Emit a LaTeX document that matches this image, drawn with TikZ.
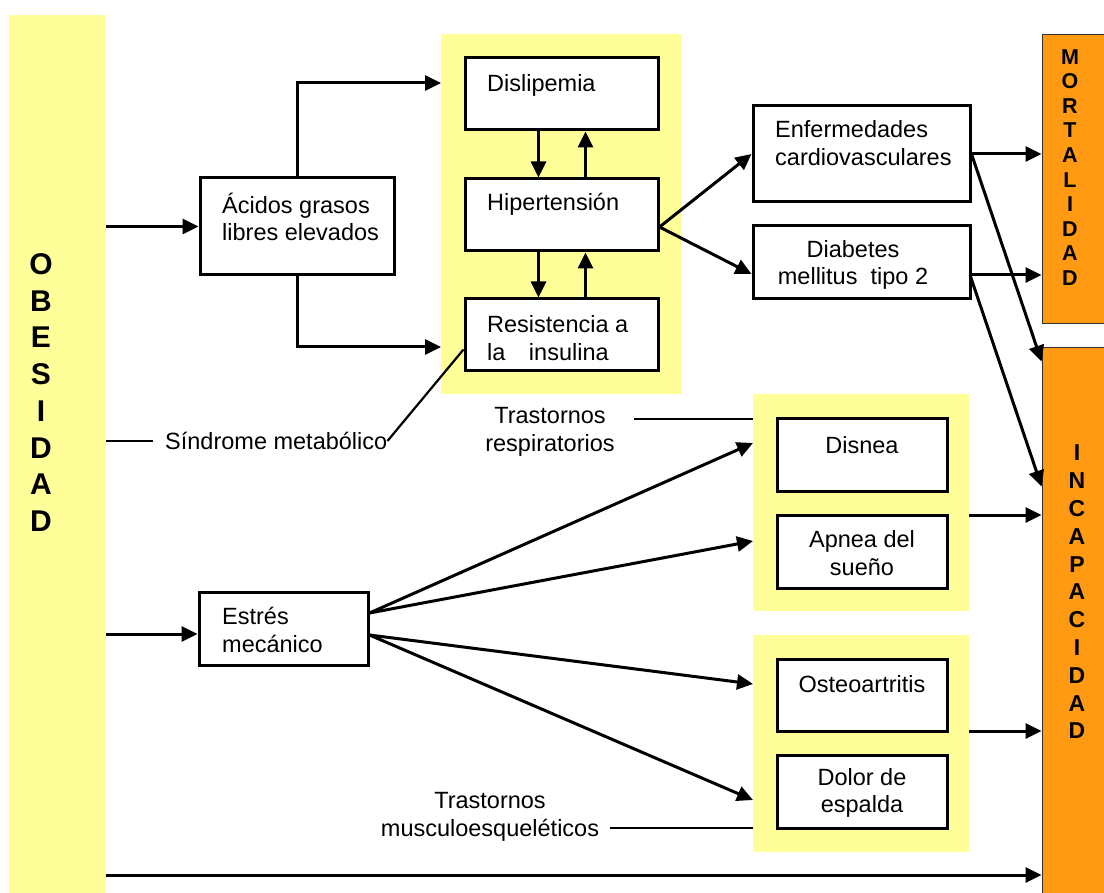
\documentclass[tikz,border=0pt]{standalone}
\usepackage{fontspec}
\setmainfont{Liberation Sans}
\usetikzlibrary{arrows.meta,positioning,calc}
\definecolor{panelyellow}{HTML}{FFFF99}
\definecolor{barorange}{HTML}{FF9A12}
\tikzset{
box/.style={draw,line width=3pt,fill=white,inner sep=0pt},
panel/.style={fill=panelyellow,inner sep=0pt},
bar/.style={fill=barorange,draw=black!80,line width=0.8pt,inner sep=0pt},
lbl/.style={inner sep=0pt,align=left},
arr/.style={-{Triangle[length=16pt,width=15pt]},line width=3pt},
}
\begin{document}
\begin{tikzpicture}[x=1pt,y=-1pt,font=\fontsize{23.5}{27.5}\selectfont]
\useasboundingbox (0,0) rectangle (1104,893);
\node[panel,minimum width=97,minimum height=878] (obes) at (57.5,454) {};
\node[panel,minimum width=241,minimum height=360] (metab) at (561.5,214) {};
\node[panel,minimum width=216,minimum height=217] (resp) at (861,502.5) {};
\node[panel,minimum width=216,minimum height=217] (musc) at (861,743.5) {};
\node[bar,minimum width=83,minimum height=289] (mort) at (1083.5,178.5) {};
\node[bar,minimum width=83,minimum height=563] (incap) at (1083.5,628.5) {};
\node[font=\fontsize{30}{36.7}\selectfont\bfseries,align=center,inner sep=0pt] (obesT) at (41,392.5) {O\\B\\E\\S\\I\\D\\A\\D};
\node[font=\fontsize{21.5}{24.6}\selectfont\bfseries,align=center,inner sep=0pt] (mortT) at (1070,167.5) {M\\O\\R\\T\\A\\L\\I\\D\\A\\D};
\node[font=\fontsize{23}{27.8}\selectfont\bfseries,align=center,inner sep=0pt] (incapT) at (1077,592) {I\\N\\C\\A\\P\\A\\C\\I\\D\\A\\D};
\node[box,minimum width=194,minimum height=97] (acg) at (297,226.5) {};
\node[box,minimum width=193,minimum height=72] (dis) at (561.5,94) {};
\node[box,minimum width=193,minimum height=72] (hip) at (561.5,215) {};
\node[box,minimum width=193,minimum height=72] (res) at (561.5,335) {};
\node[box,minimum width=217,minimum height=96] (enf) at (861.5,154) {};
\node[box,minimum width=217,minimum height=73] (dia) at (861.5,262.5) {};
\node[box,minimum width=170,minimum height=72] (disn) at (862,455) {};
\node[box,minimum width=170,minimum height=73] (apn) at (862,551.5) {};
\node[box,minimum width=170,minimum height=72] (ost) at (862,695) {};
\node[box,minimum width=170,minimum height=73] (dol) at (862,791.5) {};
\node[box,minimum width=169,minimum height=73] (est) at (283.5,628.5) {};
\node[lbl,anchor=west] (acgT) at (222,217) {Ácidos grasos\\libres elevados};
\node[lbl,anchor=west] (disT) at (487,85) {Dislipemia};
\node[lbl,anchor=west] (hipT) at (487,204) {Hipertensión};
\node[lbl,anchor=west] (resT) at (487,338) {Resistencia a\\la\hspace{1em}insulina};
\node[lbl,anchor=west] (enfT) at (775,143) {Enfermedades\\cardiovasculares};
\node[lbl,align=center] (diaT) at (853,265) {Diabetes\\mellitus\ \ tipo 2};
\node[lbl,align=center] (disnT) at (862,445) {Disnea};
\node[lbl,align=center] (apnT) at (862,553) {Apnea del\\sueño};
\node[lbl,align=center] (ostT) at (862,684) {Osteoartritis};
\node[lbl,align=center] (dolT) at (862,793) {Dolor de\\espalda};
\node[lbl,anchor=west] (estT) at (222,630) {Estrés\\mecánico};
\node[lbl,anchor=west] (sindT) at (165,441) {Síndrome metabólico};
\node[lbl,align=center] (respT) at (550,432) {Trastornos\\respiratorios};
\node[lbl,align=center] (muscT) at (490,817) {Trastornos\\musculoesqueléticos};
\coordinate (m1) at (441,83);
\coordinate (m2) at (441,347);
\coordinate (o1) at (106,634);
\coordinate (o2) at (106,875);
\coordinate (s1) at (153,441);
\coordinate (d1) at (970,275);
\coordinate (r1) at (969,515);
\coordinate (r2) at (969,731);
\coordinate (t1) at (634,419);
\coordinate (t2) at (610,828);
\coordinate (a1) at (753,443);
\coordinate (a2) at (753,541);
\coordinate (a3) at (753,684);
\coordinate (a4) at (753,800);
\coordinate (hipE) at ([yshift=-12pt]hip.east);
\coordinate (e1) at ([yshift=15.5pt]est.east);
\coordinate (e2) at ([yshift=-6.5pt]est.east);
\draw[arr] (obes.east |- acg.west) -- (acg.west);
\draw[arr] (acg.north) |- (m1);
\draw[arr] (acg.south) |- (m2);
\draw[arr] (o1) -- (est.west |- o1);
\draw[arr] (o2) -- (incap.west |- o2);
\draw[line width=2.2pt] (obes.east |- sindT) -- (s1);
\draw[line width=2.2pt] (sindT.east) -- ([yshift=23pt]res.south west);
\draw[line width=2.8pt] (t1) -- (resp.west |- t1);
\draw[line width=2.8pt] (t2) -- (musc.west |- t2);
\path[arr] ([xshift=-23pt]dis.south) edge ([xshift=-23pt]hip.north)
([xshift=24pt]hip.north) edge ([xshift=24pt]dis.south)
([xshift=-23pt]hip.south) edge ([xshift=-23pt]res.north)
([xshift=24pt]res.north) edge ([xshift=24pt]hip.south)
(hipE) edge (enf.west)
(hipE) edge ([yshift=-11.5pt]dia.west)
(enf.east) edge (mort.west |- enf.east)
(d1) edge (mort.west |- d1)
(enf.east) edge ([yshift=-15pt]incap.north west)
(d1) edge ([yshift=-140pt]incap.north west)
(r1) edge (incap.west |- r1)
(r2) edge (incap.west |- r2)
(e1) edge (a1)
(e1) edge (a2)
(e2) edge (a3)
(e2) edge (a4);
\end{tikzpicture}
\end{document}
